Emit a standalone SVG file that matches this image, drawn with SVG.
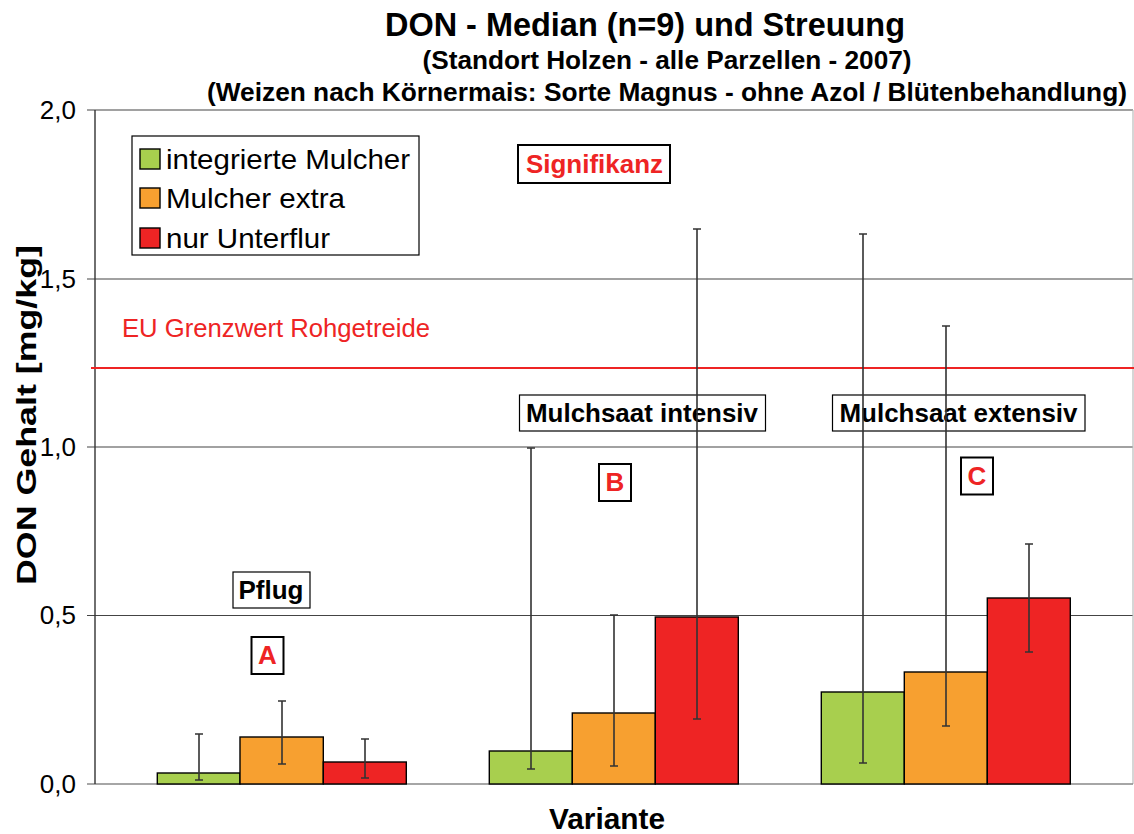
<svg xmlns="http://www.w3.org/2000/svg" width="1134" height="834" viewBox="0 0 1134 834">
  <style>
    .title { font-family: "Liberation Sans", Arial, sans-serif; font-weight: bold; fill: #000; }
    .tick { font-family: "Liberation Sans", Arial, sans-serif; font-size: 26px; fill: #000; text-anchor: end; }
    .axis-title { font-family: "Liberation Sans", Arial, sans-serif; font-weight: bold; fill: #000; text-anchor: middle; }
    .legend-text { font-family: "Liberation Sans", Arial, sans-serif; font-size: 28px; fill: #000; }
    .lbl { font-family: "Liberation Sans", Arial, sans-serif; font-weight: bold; font-size: 26px; fill: #000; text-anchor: middle; }
    .sig { font-family: "Liberation Sans", Arial, sans-serif; font-weight: bold; font-size: 26px; fill: #EE2424; text-anchor: middle; }
    .box { fill: #fff; stroke: #000; stroke-width: 1.2; }
    .box-thick { fill: #fff; stroke: #000; stroke-width: 2; }
    .grid { stroke: #444; stroke-width: 1.2; }
    .bar { stroke: #000; stroke-width: 1.4; }
    .g { fill: #A8CF4E; }
    .o { fill: #F7A030; }
    .r { fill: #EE2424; }
    .err { stroke: #333; stroke-width: 1.6; fill: none; }
  </style>

  <rect x="0" y="0" width="1134" height="834" fill="#fff"/>

  <!-- titles -->
  <text class="title" x="645" y="36" font-size="33" text-anchor="middle" textLength="520" lengthAdjust="spacingAndGlyphs">DON  - Median (n=9) und Streuung</text>
  <text class="title" x="667" y="69" font-size="25" text-anchor="middle" textLength="489" lengthAdjust="spacingAndGlyphs">(Standort Holzen - alle Parzellen - 2007)</text>
  <text class="title" x="667" y="101" font-size="25" text-anchor="middle" textLength="920" lengthAdjust="spacingAndGlyphs">(Weizen nach Körnermais: Sorte Magnus - ohne Azol / Blütenbehandlung)</text>

  <!-- plot frame and gridlines -->
  <g id="grid">
    <line class="grid" x1="87" y1="110" x2="1133" y2="110"/>
    <line class="grid" x1="87" y1="279" x2="1133" y2="279"/>
    <line class="grid" x1="87" y1="447" x2="1133" y2="447"/>
    <line class="grid" x1="87" y1="615.5" x2="1133" y2="615.5"/>
    <line x1="1133" y1="110" x2="1133" y2="784" stroke="#bbb" stroke-width="1.2"/>
    <line x1="87" y1="784" x2="1133" y2="784" stroke="#888" stroke-width="1.4"/>
    <line x1="95" y1="110" x2="95" y2="784" stroke="#333" stroke-width="1.4"/>
  </g>

  <!-- y tick labels -->
  <g id="y-ticks">
    <text class="tick" x="76" y="119">2,0</text>
    <text class="tick" x="76" y="288">1,5</text>
    <text class="tick" x="76" y="456">1,0</text>
    <text class="tick" x="76" y="624">0,5</text>
    <text class="tick" x="76" y="793">0,0</text>
  </g>

  <!-- axis titles -->
  <text class="axis-title" font-size="28" transform="translate(36,415) rotate(-90)" textLength="340" lengthAdjust="spacingAndGlyphs">DON Gehalt [mg/kg]</text>
  <text class="axis-title" x="607" y="829" font-size="29" textLength="116" lengthAdjust="spacingAndGlyphs">Variante</text>

  <!-- EU limit -->
  <line x1="91" y1="368" x2="1134" y2="368" stroke="#EE2424" stroke-width="2"/>
  <text x="122" y="337" font-family="'Liberation Sans', Arial, sans-serif" font-size="25" fill="#EE2424" textLength="308" lengthAdjust="spacingAndGlyphs">EU Grenzwert Rohgetreide</text>

  <!-- legend -->
  <g id="legend">
    <rect class="box" x="132" y="136" width="287" height="119"/>
    <rect class="bar g" x="140" y="149" width="20" height="20"/>
    <text class="legend-text" x="166" y="169" textLength="244" lengthAdjust="spacingAndGlyphs">integrierte Mulcher</text>
    <rect class="bar o" x="140" y="188" width="20" height="20"/>
    <text class="legend-text" x="166" y="208" textLength="179" lengthAdjust="spacingAndGlyphs">Mulcher extra</text>
    <rect class="bar r" x="140" y="228" width="20" height="20"/>
    <text class="legend-text" x="166" y="248" textLength="164" lengthAdjust="spacingAndGlyphs">nur Unterflur</text>
  </g>

  <!-- group labels -->
  <g id="label-signifikanz">
    <rect class="box-thick" x="518" y="145" width="152" height="38"/>
    <text class="sig" x="594.5" y="173" textLength="137" lengthAdjust="spacingAndGlyphs">Signifikanz</text>
  </g>
  <g id="label-pflug">
    <rect class="box" x="233" y="572" width="77" height="36"/>
    <text class="lbl" x="271" y="599" textLength="65" lengthAdjust="spacingAndGlyphs">Pflug</text>
  </g>
  <g id="label-a">
    <rect class="box-thick" x="251.5" y="637" width="32" height="37"/>
    <text class="sig" x="267.5" y="664">A</text>
  </g>
  <g id="label-intensiv">
    <rect class="box" x="519.5" y="395" width="246" height="36"/>
    <text class="lbl" x="642" y="422" textLength="232" lengthAdjust="spacingAndGlyphs">Mulchsaat intensiv</text>
  </g>
  <g id="label-b">
    <rect class="box-thick" x="599" y="464" width="32" height="37"/>
    <text class="sig" x="615" y="491">B</text>
  </g>
  <g id="label-extensiv">
    <rect class="box" x="832.5" y="395" width="252.5" height="36"/>
    <text class="lbl" x="958.5" y="422" textLength="238" lengthAdjust="spacingAndGlyphs">Mulchsaat extensiv</text>
  </g>
  <g id="label-c">
    <rect class="box-thick" x="961" y="457.5" width="32" height="37"/>
    <text class="sig" x="977" y="485">C</text>
  </g>

  <!-- bars -->
  <g id="bars-pflug">
    <rect class="bar g" x="157.3" y="773" width="82.7" height="11"/>
    <rect class="bar o" x="240" y="737" width="83.3" height="47"/>
    <rect class="bar r" x="323.3" y="762" width="83" height="22"/>
  </g>
  <g id="bars-intensiv">
    <rect class="bar g" x="489.3" y="751" width="83" height="33"/>
    <rect class="bar o" x="572.3" y="713" width="83" height="71"/>
    <rect class="bar r" x="655.3" y="617" width="83" height="167"/>
  </g>
  <g id="bars-extensiv">
    <rect class="bar g" x="821.3" y="692" width="83" height="92"/>
    <rect class="bar o" x="904.3" y="672" width="83" height="112"/>
    <rect class="bar r" x="987.3" y="598" width="83" height="186"/>
  </g>

  <!-- error bars (spread) -->
  <g id="connectors">
    <path class="err" d="M199 734V780M195 734H203M195 780H203"/>
    <path class="err" d="M282 701V764M278 701H286M278 764H286"/>
    <path class="err" d="M365 739V778M361 739H369M361 778H369"/>
    <path class="err" d="M531 448V769M527 448H535M527 769H535"/>
    <path class="err" d="M614 615V766M610 615H618M610 766H618"/>
    <path class="err" d="M697 229V719M693 229H701M693 719H701"/>
    <path class="err" d="M863 234V763M859 234H867M859 763H867"/>
    <path class="err" d="M946 326V726M942 326H950M942 726H950"/>
    <path class="err" d="M1029 544V652M1025 544H1033M1025 652H1033"/>
  </g>
</svg>
